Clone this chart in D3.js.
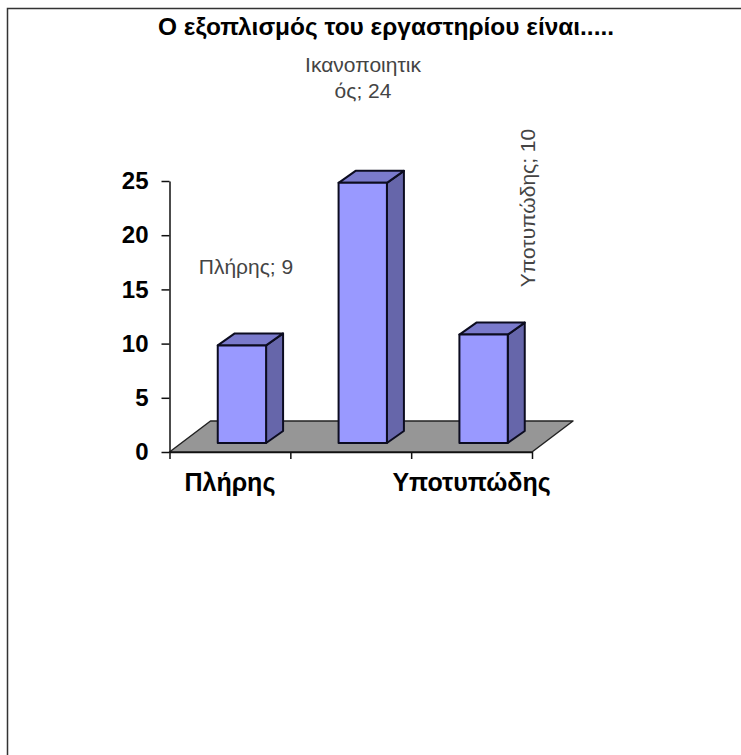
<!DOCTYPE html>
<html>
<head>
<meta charset="utf-8">
<script src="https://cdn.jsdelivr.net/npm/d3@7"></script>
<style>
html, body { margin: 0; padding: 0; background: #fff; }
svg { display: block; }
text { font-family: "Liberation Sans", Arial, sans-serif; }
</style>
</head>
<body>
<div id="chart"></div>
<script>
const chartTitle = 'Ο εξοπλισμός του εργαστηρίου είναι.....'
const categories = ['Πλήρης', 'Ικανοποιητικός', 'Υποτυπώδης']
const values = [9, 24, 10]
const yTicks = [0, 5, 10, 15, 20, 25]
const shownCategories = ['Πλήρης', 'Υποτυπώδης']

const width = 741, height = 755
const plotLeft = 169.5, plotRight = 532, y0 = 452, y25 = 181
const floorDx = 41, floorDy = -31
const barDx = 17, barDy = -12
// bars stand a little way back on the floor
const standDx = 12, standDy = -9

const svg = d3.select('#chart').append('svg').attr('width', width).attr('height', height)

// page frame, top and left only
svg.append('path')
	.attr('d', `M7.5,${height} V8.5 H${width}`)
	.attr('fill', 'none').attr('stroke', '#333').attr('stroke-width', 1.5)

svg.append('text')
	.attr('x', 386).attr('y', 35)
	.attr('text-anchor', 'middle')
	.attr('font-size', 23).attr('font-weight', 'bold').attr('fill', '#000')
	.attr('textLength', 456).attr('lengthAdjust', 'spacingAndGlyphs')
	.text(chartTitle)

const x = d3.scaleBand().domain(categories).range([plotLeft, plotRight]).paddingInner(0).paddingOuter(0)
const y = d3.scaleLinear().domain([0, 25]).range([y0, y25])
const barW = x.bandwidth() * 0.4

// floor
svg.append('path')
	.attr('d', `M${plotLeft},${y0} L${plotLeft + floorDx},${y0 + floorDy} H${plotRight + floorDx} L${plotRight},${y0} Z`)
	.attr('fill', '#969696').attr('stroke', '#222').attr('stroke-width', 1.5).attr('stroke-linejoin', 'round')

// 3d columns
const bars = svg.append('g').selectAll('g').data(categories).join('g')
	.attr('stroke', '#0c0c20').attr('stroke-width', 2).attr('stroke-linejoin', 'round')

const barX = d => x(d) + (x.bandwidth() - barW) / 2 + standDx
const barTop = (d, i) => y(values[i]) + standDy
const barBottom = y0 + standDy

bars.append('path') // side
	.attr('fill', '#6666aa')
	.attr('d', (d, i) => {
		const r = barX(d) + barW
		return `M${r},${barTop(d, i)} l${barDx},${barDy} V${barBottom + barDy} l${-barDx},${-barDy} Z`
	})
bars.append('path') // cap
	.attr('fill', '#7a7acc')
	.attr('d', (d, i) => `M${barX(d)},${barTop(d, i)} l${barDx},${barDy} h${barW} l${-barDx},${-barDy} Z`)
bars.append('rect') // front
	.attr('fill', '#9999ff')
	.attr('x', d => barX(d)).attr('y', (d, i) => barTop(d, i))
	.attr('width', barW).attr('height', (d, i) => barBottom - barTop(d, i))

// y axis
const yAxis = svg.append('g')
	.attr('transform', `translate(${plotLeft},0)`)
	.call(d3.axisLeft(y).tickValues(yTicks).tickSize(8).tickSizeOuter(0).tickPadding(13))
yAxis.selectAll('text').attr('font-size', 24).attr('font-weight', 'bold').attr('fill', '#000')
	.attr('font-family', '"Liberation Sans", Arial, sans-serif')
yAxis.selectAll('line,path').attr('stroke', '#111').attr('stroke-width', 1.5)

// x axis, ticks on the band edges
const edges = x.domain().map(d => x(d)).concat(plotRight)
const xAxis = svg.append('g')
	.attr('transform', `translate(0,${y0})`)
	.call(d3.axisBottom(d3.scaleLinear().domain([plotLeft, plotRight]).range([plotLeft, plotRight]))
		.tickValues(edges).tickSize(7).tickSizeOuter(0).tickFormat(''))
xAxis.selectAll('line,path').attr('stroke', '#111').attr('stroke-width', 1.5)

svg.append('g').selectAll('text').data(shownCategories).join('text')
	.attr('x', d => x(d) + x.bandwidth() / 2)
	.attr('y', 491)
	.attr('text-anchor', 'middle')
	.attr('font-size', 25).attr('font-weight', 'bold').attr('fill', '#000')
	.text(d => d)

// data labels sit where the original left them
const labelColor = '#444'
const labelSize = 21
svg.append('text')
	.attr('x', 246).attr('y', 274)
	.attr('text-anchor', 'middle').attr('font-size', labelSize).attr('fill', labelColor)
	.text(`${categories[0]}; ${values[0]}`)

const wrapped = svg.append('text')
	.attr('text-anchor', 'middle').attr('font-size', labelSize).attr('fill', labelColor)
wrapped.append('tspan').attr('x', 363).attr('y', 72).text(categories[1].slice(0, 12))
wrapped.append('tspan').attr('x', 363).attr('y', 98).text(`${categories[1].slice(12)}; ${values[1]}`)

svg.append('text')
	.attr('transform', 'translate(535,208) rotate(-90)')
	.attr('text-anchor', 'middle').attr('font-size', labelSize).attr('fill', labelColor)
	.text(`${categories[2]}; ${values[2]}`)
</script>
</body>
</html>
